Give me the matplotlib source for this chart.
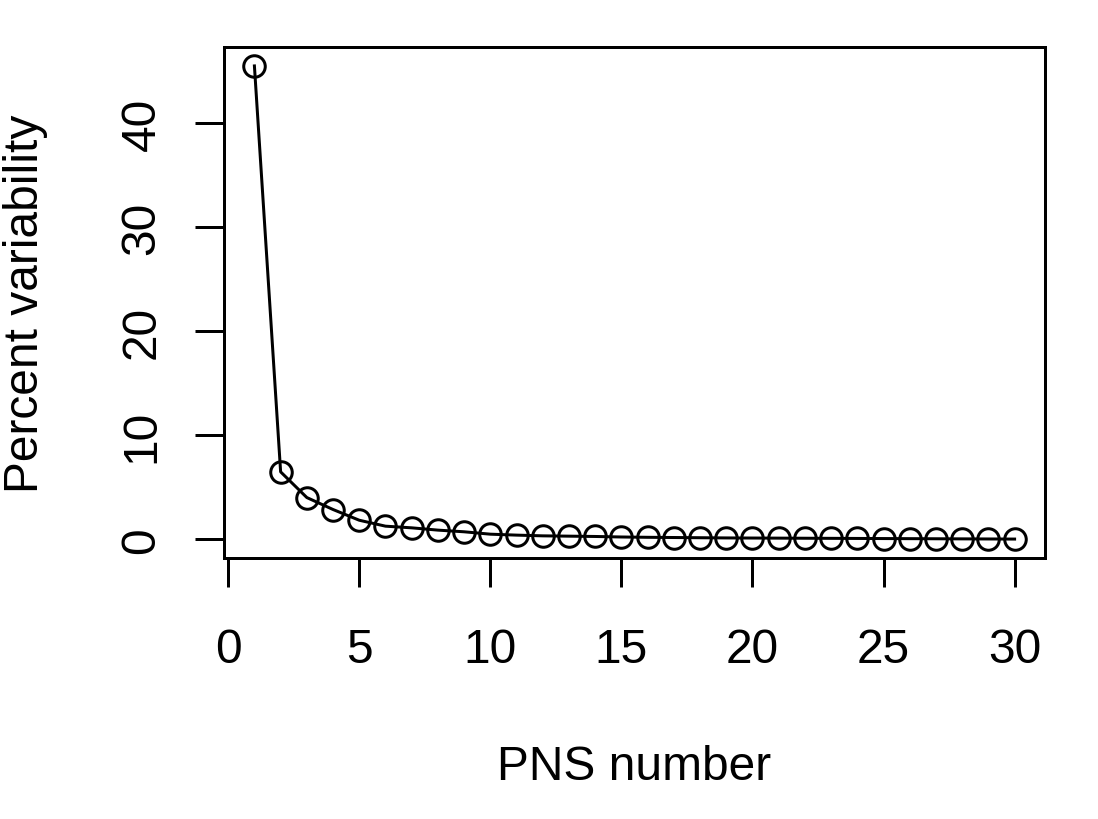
import matplotlib
matplotlib.use("Agg")
import matplotlib.pyplot as plt
import numpy as np

# Data
pns_number = list(range(1, 31))
percent_var = [45.5, 6.5, 4.03, 2.88, 1.85, 1.28, 1.12, 0.90, 0.74, 0.51,
               0.42, 0.35, 0.32, 0.29, 0.24, 0.21, 0.19, 0.17, 0.15, 0.14,
               0.13, 0.12, 0.11, 0.10, 0.09, 0.08, 0.07, 0.06, 0.05, 0.04]
x_ticks = [0, 5, 10, 15, 20, 25, 30]
y_ticks = [0, 10, 20, 30, 40]

plt.rcParams['font.family'] = ['Liberation Sans', 'DejaVu Sans']
FS = 34.5
LW = 2.16

fig = plt.figure(figsize=(10.98, 8.2), dpi=100)
ax = fig.add_axes([224/1098, 1 - 559/820, (1045-224)/1098, (559-48)/820])

ax.plot(pns_number, percent_var, color='black', lw=LW,
        marker='o', markersize=15.5, markerfacecolor='none',
        markeredgecolor='black', markeredgewidth=LW)

# R-style 4% axis extension
def r_lim(v):
    lo, hi = min(v), max(v)
    d = (hi - lo) * 0.04
    return lo - d, hi + d

ax.set_xlim(*r_lim(pns_number))
ax.set_ylim(*r_lim(percent_var))

ax.set_xticks(x_ticks)
ax.set_yticks(y_ticks)
ax.set_xticklabels([str(t) for t in x_ticks])
ax.set_yticklabels([str(t) for t in y_ticks], rotation=90, va='center')

for s in ax.spines.values():
    s.set_linewidth(LW)
    s.set_color('black')

ax.tick_params(axis='x', direction='out', length=20.9, width=LW,
               labelsize=FS, pad=28.8)
ax.tick_params(axis='y', direction='out', length=20.9, width=LW,
               labelsize=FS, pad=22)

ax.set_xlabel('PNS number', fontsize=FS)
ax.set_ylabel('Percent variability', fontsize=FS)
ax.xaxis.set_label_coords(0.5, (559 - 745) / 511)
ax.yaxis.set_label_coords((48 - 224) / 821, 0.5)

fig.savefig('out.png', dpi=100, facecolor='white')
